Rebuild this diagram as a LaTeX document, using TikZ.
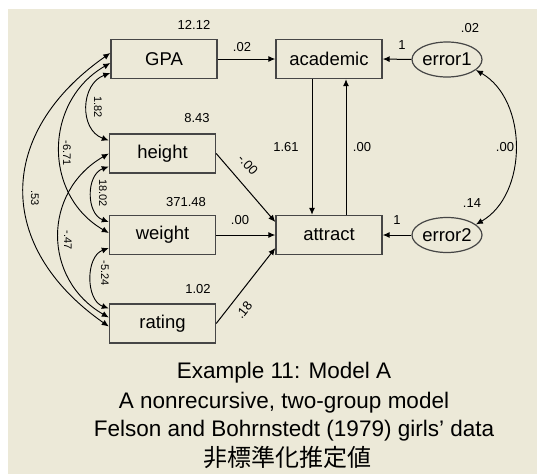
\documentclass[tikz,border=0pt]{standalone}
\usepackage{fontspec}
\setmainfont{Liberation Sans}
\newfontfamily\jpfont{Noto Sans CJK JP}
\usetikzlibrary{arrows.meta, shapes.geometric, calc}
\definecolor{amosbg}{RGB}{236,233,216}
\definecolor{amosline}{RGB}{70,70,70}
\tikzset{
  box/.style={draw=amosline, line width=1.4pt, minimum width=106pt, minimum height=39pt, inner sep=0pt, font=\fontsize{18.5}{20}\selectfont},
  err/.style={ellipse, draw=amosline, line width=1.2pt, minimum width=70pt, minimum height=35pt, inner sep=0pt, font=\fontsize{18.5}{20}\selectfont},
  arr/.style={line width=1pt, -{Latex[length=7pt,width=6pt]}},
  cov/.style={line width=0.9pt, {Latex[length=7pt,width=6pt]}-{Latex[length=7pt,width=6pt]}},
  num/.style={font=\fontsize{13}{14}\selectfont, inner sep=0pt},
  cnum/.style={font=\fontsize{11}{12}\selectfont, inner sep=0pt, rotate=-90},
  captext/.style={font=\fontsize{22.5}{25}\selectfont, inner sep=0pt}
}

\begin{document}
\begin{tikzpicture}[x=1pt, y=1pt]
    \useasboundingbox (0,0) rectangle (537,-474);
    \fill[amosbg] (8,-9) rectangle (537,-474);

    % --- Observed variables ---
    \node[box] (gpa)      at (164,-59)     {GPA};
    \node[box] (height)   at (162.5,-153.5) {height};
    \node[box] (weight)   at (162.5,-235)  {weight};
    \node[box] (rating)   at (162.5,-323.5) {rating};
    \node[box] (academic) at (329,-59)     {academic};
    \node[box] (attract)  at (329,-235)    {attract};

    % --- Error terms ---
    \node[err] (error1) at (447,-59.5) {error1};
    \node[err] (error2) at (447,-235)  {error2};

    % --- Paths ---
    \draw[arr] (gpa.east) -- (academic.west);
    \draw[arr] (height.east) -- ([yshift=13pt]attract.west);
    \draw[arr] (weight.east) -- (attract.west);
    \draw[arr] (rating.east) -- ([yshift=-13pt]attract.west);
    \draw[arr] ([xshift=-17pt]academic.south) -- ([xshift=-17pt]attract.north);
    \draw[arr] ([xshift=17pt]attract.north) -- ([xshift=17pt]academic.south);
    \draw[arr] (error1.west) -- (academic.east);
    \draw[arr] (error2.west) -- (attract.east);

    % --- Covariances ---
    \draw[cov] ([yshift=-14pt]gpa.west) to[out=200, in=160, looseness=1.2] ([yshift=13pt]height.west);
    \draw[cov] ([yshift=-13pt]height.west) to[out=200, in=160, looseness=1.12] ([yshift=13pt]weight.west);
    \draw[cov] ([yshift=-13pt]weight.west) to[out=200, in=160, looseness=1.05] ([yshift=15pt]rating.west);
    \draw[cov] ([yshift=-4pt]gpa.west) to[out=210, in=150, looseness=1.15] ([yshift=2pt]weight.west);
    \draw[cov] (height.west) to[out=210, in=150, looseness=1.2] ([yshift=6pt]rating.west);
    \draw[cov] ([yshift=6pt]gpa.west) to[out=215, in=145, looseness=1.3] ([yshift=-3pt]rating.west);
    \draw[cov] (error1.-20) to[out=-30, in=30, looseness=1.0] (error2.20);

    % Variances
    \node[num] (vgpa)    at (194,-25)  {12.12};
    \node[num] (vheight) at (197,-118) {8.43};
    \node[num] (vweight) at (186,-202) {371.48};
    \node[num] (vrating) at (198,-289) {1.02};
    \node[num] (verr1)   at (470,-28)  {.02};
    \node[num] (verr2)   at (472,-203) {.14};

    % Path weights
    \node[num] (wgpa)    at (242,-47)  {.02};
    \node[num] (wweight) at (240,-220) {.00};
    \node[num, rotate=-48] (wheight) at (248,-165) {-.00};
    \node[num, rotate=52]  (wrating) at (244,-310) {.18};
    \node[num] (wacad)   at (286,-147) {1.61};
    \node[num] (wattr)   at (362,-147) {.00};
    \node[num] (werr1)   at (402,-45)  {1};
    \node[num] (werr2)   at (397,-220) {1};
    \node[num] (cerr)    at (505,-147) {.00};

    % Covariance values
    \node[cnum] (c12) at (98,-107)  {1.82};
    \node[cnum] (c13) at (67,-153)  {-6.71};
    \node[cnum] (c23) at (103,-193) {18.02};
    \node[cnum] (c24) at (68,-240)  {-.47};
    \node[cnum] (c34) at (105,-273) {-5.24};
    \node[cnum] (c14) at (35,-198)  {.53};

    % Caption
    \node[captext] (cap1) at (284,-373) {Example 11: Model A};
    \node[captext] (cap2) at (284,-403) {A nonrecursive, two-group model};
    \node[captext] (cap3) at (294,-431) {Felson and Bohrnstedt (1979) girls' data};
    \node[captext, font=\jpfont\fontsize{24}{26}\selectfont] (cap4) at (287,-457) {非標準化推定値};
  \end{tikzpicture}
\end{document}
